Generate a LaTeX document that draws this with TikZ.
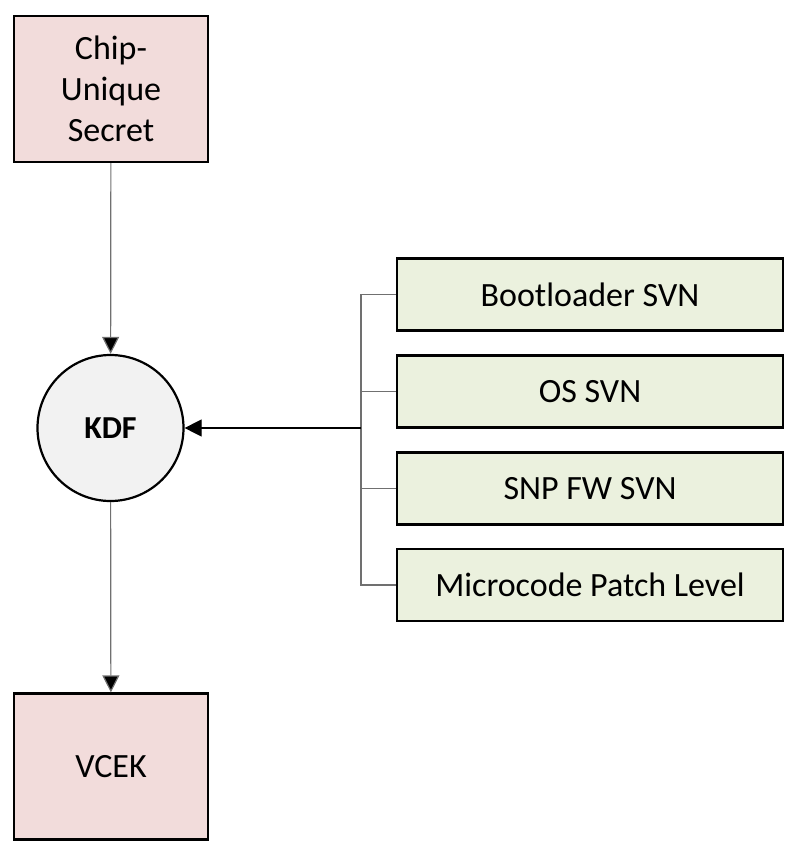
\documentclass[tikz,border=0pt]{standalone}
\usepackage{fontspec}
\setmainfont{Carlito}
\usetikzlibrary{arrows.meta}
\definecolor{pinkfill}{HTML}{F2DCDB}
\definecolor{greenfill}{HTML}{EBF1DE}
\definecolor{kdffill}{HTML}{F2F2F2}
\definecolor{conn}{HTML}{707070}
\tikzset{
  pinkbox/.style={draw=black, line width=2.2pt, fill=pinkfill, minimum width=194pt, minimum height=146pt, inner sep=0pt, align=center, font=\fontsize{34}{41}\selectfont},
  greenbox/.style={draw=black, line width=2.2pt, fill=greenfill, minimum width=386pt, minimum height=72pt, inner sep=0pt, font=\fontsize{34}{41}\selectfont},
  kdf/.style={draw=black, line width=2.2pt, fill=kdffill, circle, minimum size=146pt, inner sep=0pt, font=\fontsize{32}{40}\selectfont\bfseries},
  link/.style={draw=conn, line width=1.2pt},
  arrowlink/.style={link, -{Triangle[length=17pt,width=17pt,fill=black]}},
}
\begin{document}
\begin{tikzpicture}[x=1pt,y=-1pt]
\useasboundingbox (0,0) rectangle (803,852);
\node[pinkbox] (chip) at (111,89) {Chip-\\Unique\\Secret};
\node[pinkbox] (vcek) at (111,766.5) {VCEK};
\node[kdf] (kdf) at (110.5,428) {KDF};
\node[greenbox] (b1) at (590,294.5) {Bootloader SVN};
\node[greenbox] (b2) at (590,391.5) {OS SVN};
\node[greenbox] (b3) at (590,488.5) {SNP FW SVN};
\node[greenbox] (b4) at (590,585) {Microcode Patch Level};
\coordinate (bus) at (361,428);
\draw[arrowlink] (chip) -- (kdf);
\draw[arrowlink] (kdf) -- (vcek);
\draw[link] (b1.west) -| (bus);
\draw[link] (b2.west) -| (bus);
\draw[link] (b3.west) -| (bus);
\draw[link] (b4.west) -| (bus);
\draw[arrowlink, draw=black] (bus) -- (kdf);
\end{tikzpicture}
\end{document}
